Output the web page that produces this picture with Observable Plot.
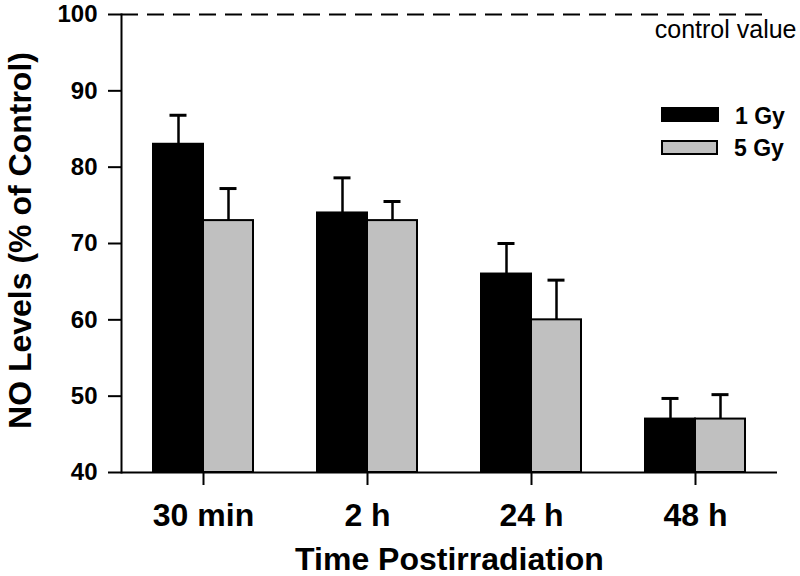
<!DOCTYPE html>
<html>
<head>
<meta charset="utf-8">
<script src="https://cdn.jsdelivr.net/npm/d3@7"></script>
<script src="https://cdn.jsdelivr.net/npm/@observablehq/plot@0.6"></script>
<style>
  body { margin: 0; background: #fff; }
  #wrap { position: relative; width: 800px; height: 576px; font-family: "Liberation Sans", Arial, sans-serif; }
  .sw { position: absolute; box-sizing: border-box; border: 2px solid #000; }
  .lt { position: absolute; font-size: 23px; line-height: 23px; font-weight: bold; color: #000; }
</style>
</head>
<body>
<div id="wrap"></div>
<script>
const times = ["30 min", "2 h", "24 h", "48 h"];
const gy1 = [83, 74, 66, 47];
const gy1Err = [3.8, 4.6, 4.0, 2.7];
const gy5 = [73, 73, 60, 47];
const gy5Err = [4.2, 2.5, 5.2, 3.2];
const yTicks = [40, 50, 60, 70, 80, 90, 100];
const controlValue = 100;
const seriesNames = ["1 Gy", "5 Gy"];
const seriesColors = ["#000000", "#c0c0c0"];

const d1 = times.map((t, i) => ({time: t, value: gy1[i], err: gy1Err[i]}));
const d5 = times.map((t, i) => ({time: t, value: gy5[i], err: gy5Err[i]}));

const font = "'Liberation Sans', Arial, Helvetica, sans-serif";

const chart = Plot.plot({
  width: 800,
  height: 576,
  marginLeft: 121,
  marginRight: 23,
  marginTop: 14,
  marginBottom: 104,
  style: {fontFamily: font, background: "white", color: "black", overflow: "visible"},
  x: {domain: times, padding: 0, label: null},
  y: {domain: [40, 100], label: null},
  marks: [
    // bars
    Plot.barY(d1, {x: "time", y1: 40, y2: "value", fill: seriesColors[0], stroke: "black", strokeWidth: 2, insetLeft: 32, insetRight: 82}),
    Plot.barY(d5, {x: "time", y1: 40, y2: "value", fill: seriesColors[1], stroke: "black", strokeWidth: 2, insetLeft: 82, insetRight: 32}),
    // error bars
    Plot.ruleX(d1, {x: "time", y1: "value", y2: d => d.value + d.err, dx: -25, strokeWidth: 2.5}),
    Plot.ruleX(d5, {x: "time", y1: "value", y2: d => d.value + d.err, dx: 25, strokeWidth: 2.5}),
    Plot.tickY(d1, {x: "time", y: d => d.value + d.err, dx: -25, insetLeft: 73.5, insetRight: 73.5, strokeWidth: 3}),
    Plot.tickY(d5, {x: "time", y: d => d.value + d.err, dx: 25, insetLeft: 73.5, insetRight: 73.5, strokeWidth: 3}),
    // control line
    Plot.ruleY([controlValue], {strokeDasharray: "17,9", strokeWidth: 2, insetRight: 9}),
    Plot.text(["control value"], {text: d => d, frameAnchor: "top-right", lineAnchor: "top", textAnchor: "end", dx: 19, dy: 6, fontSize: 25}),
    // axes
    Plot.ruleY([40], {strokeWidth: 2}),
    Plot.frame({anchor: "left", strokeWidth: 2}),
    Plot.axisY({ticks: yTicks, tickSize: 13, tickPadding: 11, fontSize: 24, fontWeight: "bold", strokeWidth: 2, label: null}),
    Plot.axisX({tickSize: 13, tickPadding: 18, fontSize: 32, fontWeight: "bold", strokeWidth: 2, label: null}),
    Plot.text(["NO Levels (% of Control)"], {text: d => d, frameAnchor: "left", rotate: -90, textAnchor: "middle", lineAnchor: "middle", dx: -101, dy: -3, fontSize: 32, fontWeight: "bold"}),
    Plot.text(["Time Postirradiation"], {text: d => d, frameAnchor: "bottom", lineAnchor: "middle", dy: 87, fontSize: 32, fontWeight: "bold"})
  ]
});

const wrap = document.getElementById("wrap");
wrap.appendChild(chart);

// legend overlay
const legendPos = [{sw: [661, 107, 58, 15], tx: [735, 104.5]}, {sw: [661, 140, 57, 15], tx: [734, 136.5]}];
seriesNames.forEach((name, i) => {
  const p = legendPos[i];
  const sw = document.createElement("div");
  sw.className = "sw";
  Object.assign(sw.style, {left: p.sw[0] + "px", top: p.sw[1] + "px", width: p.sw[2] + "px", height: p.sw[3] + "px", background: seriesColors[i]});
  wrap.appendChild(sw);
  const t = document.createElement("div");
  t.className = "lt";
  t.textContent = name;
  Object.assign(t.style, {left: p.tx[0] + "px", top: p.tx[1] + "px"});
  wrap.appendChild(t);
});
</script>
</body>
</html>
